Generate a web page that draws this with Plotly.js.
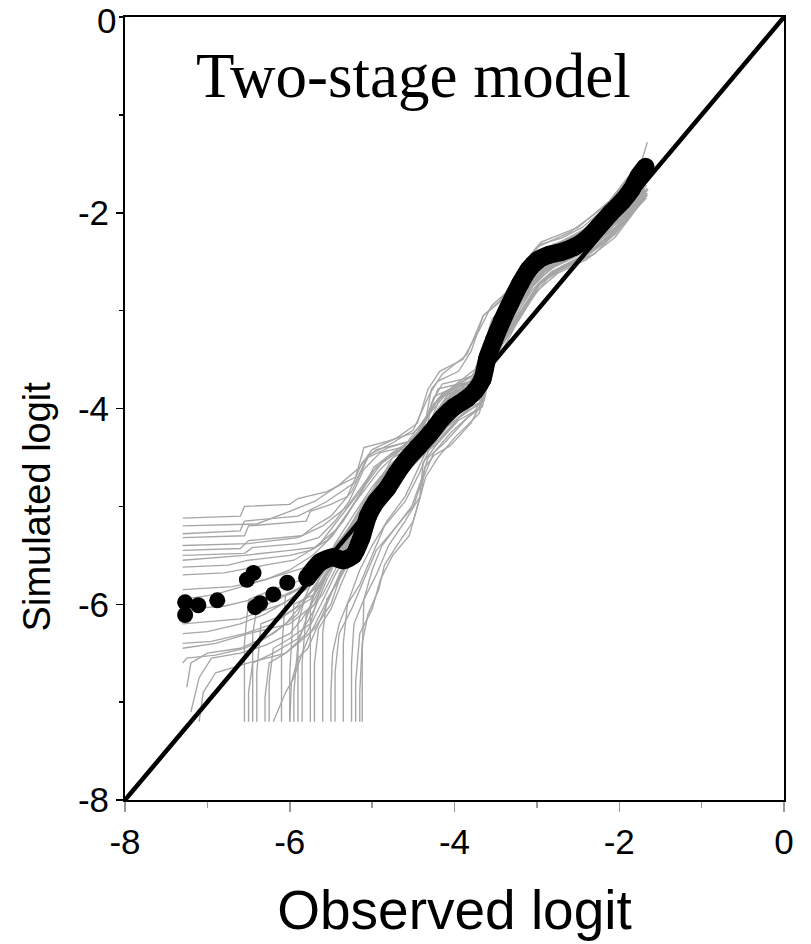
<!DOCTYPE html>
<html>
<head>
<meta charset="utf-8">
<script src="https://cdn.plot.ly/plotly-3.0.1.min.js"></script>
<style>html,body{margin:0;padding:0;background:#fff;}#chart{width:811px;height:944px;}</style>
</head>
<body>
<div id="chart"></div>
<script>
// Observed logit vs simulated logit (black, thick): isolated left points
const obsIsoX = [-7.27, -7.27, -7.11, -6.88, -6.52, -6.44, -6.42, -6.36, -6.20, -6.03];
const obsIsoY = [-5.98, -6.11, -6.01, -5.96, -5.75, -5.68, -6.03, -5.99, -5.90, -5.78];
// continuous part of the observed curve
const obsX = [-5.79, -5.63, -5.48, -5.35, -5.23, -5.13, -5.05, -4.95, -4.82, -4.70, -4.58, -4.45, -4.30, -4.15, -4.00, -3.85, -3.75, -3.66, -3.60, -3.52, -3.42, -3.32, -3.20, -3.10, -2.98, -2.85, -2.70, -2.55, -2.40, -2.25, -2.10, -1.96, -1.85, -1.76, -1.68];
const obsY = [-5.73, -5.57, -5.52, -5.55, -5.50, -5.32, -5.10, -4.95, -4.82, -4.66, -4.52, -4.40, -4.26, -4.10, -3.98, -3.90, -3.82, -3.70, -3.48, -3.30, -3.10, -2.92, -2.72, -2.58, -2.48, -2.43, -2.40, -2.35, -2.27, -2.14, -2.00, -1.88, -1.76, -1.62, -1.53];
// identity line
const idX = [-8, 0];
const idY = [-8, 0];
// Simulated datasets (grey), [observed, simulated] pairs
const sim01 = [[-7.3,-6.45],[-6.9,-6.4],[-6.5,-6.3],[-6.0,-6.2],[-5.7,-6.0],[-5.5,-5.6],[-5.3,-5.3],[-5.1,-5.05],[-4.85,-4.8],[-4.6,-4.5],[-4.35,-4.25],[-4.1,-3.9],[-3.85,-3.75],[-3.68,-3.6],[-3.55,-3.3],[-3.4,-3.05],[-3.2,-2.75],[-2.95,-2.5],[-2.6,-2.35],[-2.25,-2.15],[-1.95,-1.92],[-1.78,-1.72],[-1.7,-1.6]];
const sim02 = [[-7.3,-5.28],[-6.6,-5.25],[-6.55,-5.15],[-5.9,-5.1],[-5.55,-4.95],[-5.2,-4.75],[-5.05,-4.48],[-4.75,-4.35],[-4.5,-4.22],[-4.3,-3.85],[-4.15,-3.65],[-3.85,-3.45],[-3.65,-3.05],[-3.4,-2.88],[-3.2,-2.6],[-3.0,-2.35],[-2.6,-2.2],[-2.15,-1.92],[-1.9,-1.65],[-1.72,-1.45],[-1.66,-1.28]];
const sim03 = [[-7.3,-5.4],[-6.5,-5.38],[-5.9,-5.32],[-5.6,-5.2],[-5.3,-5.0],[-5.0,-4.65],[-4.75,-4.45],[-4.45,-4.28],[-4.25,-3.95],[-4.0,-3.78],[-3.75,-3.7],[-3.62,-3.4],[-3.48,-3.1],[-3.3,-2.82],[-3.08,-2.52],[-2.8,-2.32],[-2.4,-2.22],[-2.05,-1.98],[-1.82,-1.78],[-1.7,-1.62]];
const sim04 = [[-7.3,-5.55],[-6.55,-5.5],[-6.0,-5.45],[-5.7,-5.42],[-5.45,-5.25],[-5.2,-4.95],[-4.9,-4.62],[-4.62,-4.4],[-4.4,-4.15],[-4.15,-3.85],[-3.9,-3.72],[-3.7,-3.62],[-3.58,-3.35],[-3.42,-3.08],[-3.22,-2.78],[-2.98,-2.52],[-2.7,-2.4],[-2.3,-2.2],[-1.98,-1.95],[-1.8,-1.8],[-1.68,-1.65]];
const sim05 = [[-7.3,-5.95],[-6.9,-5.9],[-6.5,-5.8],[-6.1,-5.7],[-5.8,-5.62],[-5.5,-5.45],[-5.25,-5.2],[-5.0,-4.85],[-4.7,-4.55],[-4.45,-4.35],[-4.2,-4.1],[-3.95,-3.85],[-3.7,-3.75],[-3.6,-3.45],[-3.45,-3.2],[-3.28,-2.95],[-3.05,-2.65],[-2.8,-2.45],[-2.45,-2.32],[-2.1,-2.1],[-1.85,-1.85],[-1.72,-1.7]];
const sim06 = [[-7.25,-6.85],[-7.2,-6.6],[-7.0,-6.5],[-6.6,-6.45],[-6.2,-6.3],[-5.9,-6.1],[-5.75,-5.8],[-5.5,-5.55],[-5.3,-5.35],[-5.05,-5.0],[-4.8,-4.7],[-4.55,-4.5],[-4.35,-4.3],[-4.1,-4.0],[-3.8,-3.85],[-3.65,-3.7],[-3.52,-3.4],[-3.35,-3.15],[-3.15,-2.85],[-2.9,-2.6],[-2.55,-2.45],[-2.2,-2.25],[-1.85,-1.95],[-1.7,-1.78]];
const sim07 = [[-7.3,-5.7],[-6.8,-5.68],[-6.3,-5.6],[-5.95,-5.55],[-5.65,-5.4],[-5.4,-5.12],[-5.15,-4.85],[-4.95,-4.6],[-4.7,-4.45],[-4.5,-4.3],[-4.3,-4.05],[-4.05,-3.8],[-3.8,-3.68],[-3.66,-3.5],[-3.52,-3.15],[-3.35,-2.9],[-3.12,-2.6],[-2.9,-2.4],[-2.5,-2.25],[-2.12,-2.02],[-1.88,-1.82],[-1.73,-1.66]];
const sim08 = [[-7.3,-6.2],[-6.6,-6.15],[-6.1,-6.0],[-5.8,-5.85],[-5.6,-5.6],[-5.35,-5.4],[-5.1,-5.1],[-4.85,-4.75],[-4.55,-4.55],[-4.3,-4.35],[-4.15,-4.15],[-3.9,-3.95],[-3.68,-3.85],[-3.6,-3.55],[-3.48,-3.3],[-3.3,-3.05],[-3.1,-2.75],[-2.85,-2.55],[-2.5,-2.4],[-2.15,-2.18],[-1.85,-1.9],[-1.7,-1.75]];
const sim09 = [[-6.55,-7.2],[-6.55,-6.4],[-6.5,-5.95],[-6.2,-5.85],[-5.85,-5.75],[-5.6,-5.55],[-5.35,-5.3],[-5.15,-5.05],[-4.9,-4.7],[-4.6,-4.48],[-4.38,-4.25],[-4.12,-3.92],[-3.85,-3.78],[-3.68,-3.65],[-3.56,-3.38],[-3.4,-3.12],[-3.22,-2.82],[-2.98,-2.55],[-2.65,-2.38],[-2.25,-2.18],[-1.95,-1.95],[-1.76,-1.76]];
const sim10 = [[-6.4,-7.2],[-6.4,-6.7],[-6.35,-6.2],[-6.05,-6.1],[-5.75,-5.95],[-5.55,-5.7],[-5.4,-5.45],[-5.2,-5.2],[-4.95,-4.9],[-4.7,-4.6],[-4.45,-4.4],[-4.25,-4.18],[-4.0,-3.88],[-3.75,-3.8],[-3.62,-3.58],[-3.5,-3.28],[-3.32,-3.0],[-3.12,-2.7],[-2.85,-2.5],[-2.45,-2.35],[-2.08,-2.1],[-1.82,-1.85],[-1.68,-1.7]];
const sim11 = [[-6.1,-7.2],[-6.1,-6.5],[-6.05,-5.9],[-5.8,-5.8],[-5.6,-5.65],[-5.45,-5.38],[-5.25,-5.12],[-5.0,-4.8],[-4.75,-4.55],[-4.5,-4.38],[-4.28,-4.1],[-4.05,-3.82],[-3.8,-3.72],[-3.64,-3.48],[-3.5,-3.2],[-3.32,-2.95],[-3.1,-2.62],[-2.85,-2.42],[-2.5,-2.28],[-2.15,-2.08],[-1.9,-1.86],[-1.74,-1.7]];
const sim12 = [[-5.85,-7.2],[-5.85,-6.6],[-5.8,-6.1],[-5.6,-5.9],[-5.45,-5.65],[-5.3,-5.4],[-5.12,-5.15],[-4.9,-4.85],[-4.62,-4.6],[-4.4,-4.45],[-4.2,-4.22],[-3.95,-3.95],[-3.7,-3.88],[-3.6,-3.6],[-3.46,-3.35],[-3.28,-3.08],[-3.05,-2.78],[-2.82,-2.6],[-2.4,-2.42],[-2.08,-2.2],[-1.8,-1.9],[-1.68,-1.78]];
const sim13 = [[-5.6,-7.2],[-5.6,-6.3],[-5.55,-5.95],[-5.4,-5.75],[-5.2,-5.45],[-5.0,-5.15],[-4.75,-4.82],[-4.5,-4.55],[-4.3,-4.35],[-4.1,-4.1],[-3.85,-3.95],[-3.66,-3.9],[-3.56,-3.5],[-3.42,-3.25],[-3.25,-3.0],[-3.02,-2.7],[-2.78,-2.55],[-2.4,-2.4],[-2.0,-2.12],[-1.76,-1.86],[-1.66,-1.75]];
const sim14 = [[-5.35,-7.2],[-5.35,-6.4],[-5.3,-6.0],[-5.15,-5.8],[-5.0,-5.5],[-4.85,-5.2],[-4.6,-4.95],[-4.42,-4.65],[-4.3,-4.4],[-4.1,-4.2],[-3.8,-3.98],[-3.64,-3.92],[-3.55,-3.55],[-3.4,-3.3],[-3.2,-3.02],[-3.0,-2.75],[-2.8,-2.6],[-2.45,-2.45],[-2.1,-2.22],[-1.8,-1.92],[-1.66,-1.8]];
const sim15 = [[-5.12,-7.2],[-5.12,-6.5],[-5.1,-5.95],[-4.95,-5.7],[-4.8,-5.4],[-4.6,-5.15],[-4.42,-4.9],[-4.38,-4.55],[-4.2,-4.35],[-3.95,-4.1],[-3.7,-3.95],[-3.6,-3.7],[-3.5,-3.42],[-3.35,-3.2],[-3.15,-2.95],[-2.95,-2.7],[-2.7,-2.55],[-2.35,-2.4],[-2.0,-2.15],[-1.75,-1.88],[-1.65,-1.76]];
const sim16 = [[-6.25,-7.2],[-6.25,-6.8],[-6.2,-6.45],[-6.0,-6.35],[-5.75,-6.2],[-5.65,-5.9],[-5.5,-5.6],[-5.3,-5.35],[-5.1,-5.1],[-4.85,-4.8],[-4.55,-4.52],[-4.35,-4.32],[-4.18,-4.05],[-3.92,-3.85],[-3.7,-3.78],[-3.6,-3.5],[-3.45,-3.22],[-3.27,-2.96],[-3.05,-2.65],[-2.78,-2.46],[-2.35,-2.3],[-2.0,-2.05],[-1.78,-1.8],[-1.7,-1.68]];
const sim17 = [[-5.95,-7.2],[-5.95,-6.9],[-5.9,-6.4],[-5.7,-6.25],[-5.5,-6.0],[-5.38,-5.7],[-5.22,-5.45],[-5.05,-5.2],[-4.8,-4.9],[-4.55,-4.62],[-4.35,-4.42],[-4.15,-4.25],[-3.9,-4.0],[-3.66,-3.82],[-3.58,-3.52],[-3.44,-3.3],[-3.25,-3.05],[-3.05,-2.75],[-2.8,-2.55],[-2.4,-2.38],[-2.05,-2.15],[-1.78,-1.85],[-1.67,-1.72]];
const sim18 = [[-5.45,-7.2],[-5.45,-6.7],[-5.4,-6.3],[-5.25,-6.05],[-5.1,-5.75],[-4.95,-5.45],[-4.75,-5.25],[-4.5,-5.0],[-4.4,-4.75],[-4.25,-4.45],[-4.05,-4.25],[-3.75,-4.02],[-3.63,-3.85],[-3.55,-3.6],[-3.42,-3.35],[-3.22,-3.1],[-3.0,-2.8],[-2.75,-2.62],[-2.4,-2.48],[-2.05,-2.25],[-1.78,-1.95],[-1.66,-1.82]];
const sim19 = [[-6.5,-7.2],[-6.5,-6.9],[-6.45,-6.6],[-6.2,-6.5],[-5.9,-6.35],[-5.7,-6.05],[-5.55,-5.75],[-5.4,-5.5],[-5.2,-5.25],[-4.95,-4.95],[-4.7,-4.68],[-4.48,-4.48],[-4.28,-4.28],[-4.05,-3.98],[-3.8,-3.85],[-3.65,-3.72],[-3.55,-3.42],[-3.38,-3.15],[-3.18,-2.88],[-2.95,-2.6],[-2.6,-2.45],[-2.2,-2.25],[-1.9,-1.95],[-1.72,-1.78]];
const sim20 = [[-7.1,-7.2],[-7.05,-6.9],[-6.9,-6.7],[-6.5,-6.6],[-6.05,-6.5],[-5.8,-6.3],[-5.62,-6.0],[-5.45,-5.7],[-5.28,-5.45],[-5.08,-5.15],[-4.8,-4.85],[-4.55,-4.6],[-4.35,-4.4],[-4.15,-4.15],[-3.9,-3.9],[-3.7,-3.8],[-3.6,-3.55],[-3.47,-3.3],[-3.3,-3.02],[-3.08,-2.72],[-2.82,-2.5],[-2.45,-2.35],[-2.1,-2.12],[-1.84,-1.88],[-1.7,-1.74]];
const sim21 = [[-7.3,-5.2],[-6.4,-5.18],[-6.0,-5.05],[-5.7,-4.95],[-5.4,-4.78],[-5.15,-4.6],[-5.0,-4.42],[-4.7,-4.3],[-4.45,-4.15],[-4.32,-3.8],[-4.18,-3.62],[-3.9,-3.5],[-3.7,-3.2],[-3.55,-2.95],[-3.35,-2.8],[-3.15,-2.5],[-2.95,-2.3],[-2.5,-2.15],[-2.12,-1.88],[-1.88,-1.62],[-1.75,-1.5]];
const sim22 = [[-7.3,-5.85],[-6.7,-5.82],[-6.3,-5.75],[-6.0,-5.65],[-5.72,-5.5],[-5.48,-5.3],[-5.28,-5.05],[-5.08,-4.78],[-4.85,-4.52],[-4.6,-4.38],[-4.38,-4.18],[-4.2,-3.9],[-3.98,-3.75],[-3.75,-3.6],[-3.62,-3.3],[-3.48,-3.02],[-3.28,-2.72],[-3.05,-2.45],[-2.72,-2.3],[-2.32,-2.12],[-2.0,-1.9],[-1.8,-1.7],[-1.68,-1.55]];
const sim23 = [[-7.3,-6.3],[-7.0,-6.28],[-6.6,-6.2],[-6.3,-6.1],[-6.0,-5.95],[-5.7,-5.75],[-5.45,-5.55],[-5.22,-5.3],[-4.98,-4.98],[-4.72,-4.7],[-4.48,-4.5],[-4.25,-4.3],[-4.0,-4.02],[-3.75,-3.9],[-3.63,-3.68],[-3.52,-3.38],[-3.36,-3.12],[-3.16,-2.82],[-2.92,-2.6],[-2.55,-2.44],[-2.18,-2.22],[-1.87,-1.92],[-1.7,-1.8]];
const sim24 = [[-5.75,-7.2],[-5.75,-6.0],[-5.65,-5.75],[-5.5,-5.5],[-5.3,-5.25],[-5.1,-4.95],[-4.85,-4.68],[-4.6,-4.42],[-4.4,-4.2],[-4.2,-3.9],[-3.95,-3.78],[-3.72,-3.7],[-3.6,-3.45],[-3.45,-3.15],[-3.28,-2.88],[-3.05,-2.58],[-2.75,-2.42],[-2.35,-2.25],[-2.0,-2.02],[-1.82,-1.8],[-1.7,-1.66]];
const sim25 = [[-5.2,-7.2],[-5.2,-6.8],[-5.15,-6.3],[-5.0,-6.05],[-4.9,-5.75],[-4.75,-5.5],[-4.55,-5.3],[-4.45,-5.0],[-4.35,-4.7],[-4.2,-4.5],[-4.0,-4.3],[-3.7,-4.05],[-3.62,-3.8],[-3.55,-3.52],[-3.4,-3.28],[-3.2,-3.02],[-2.98,-2.72],[-2.75,-2.58],[-2.4,-2.45],[-2.05,-2.22],[-1.76,-1.92],[-1.66,-1.8]];
const sim26 = [[-6.0,-7.2],[-6.0,-6.7],[-5.95,-6.0],[-5.7,-5.9],[-5.55,-5.7],[-5.38,-5.45],[-5.18,-5.18],[-4.95,-4.88],[-4.68,-4.6],[-4.45,-4.42],[-4.25,-4.22],[-4.02,-3.92],[-3.78,-3.8],[-3.63,-3.6],[-3.52,-3.3],[-3.36,-3.05],[-3.15,-2.75],[-2.9,-2.52],[-2.55,-2.36],[-2.2,-2.18],[-1.9,-1.9],[-1.73,-1.74]];
const sim27 = [[-7.3,-5.32],[-6.55,-5.3],[-6.5,-5.2],[-5.8,-5.15],[-5.75,-5.05],[-5.5,-4.98],[-5.3,-4.9],[-5.12,-4.55],[-4.95,-4.42],[-4.6,-4.35],[-4.35,-4.28],[-4.28,-3.95],[-4.15,-3.75],[-3.9,-3.7],[-3.72,-3.65],[-3.65,-3.38],[-3.55,-3.1],[-3.38,-2.9],[-3.2,-2.62],[-3.0,-2.42],[-2.7,-2.3],[-2.35,-2.15],[-2.05,-1.95],[-1.85,-1.72],[-1.72,-1.55]];
const sim28 = [[-7.3,-5.45],[-6.6,-5.43],[-6.5,-5.35],[-5.85,-5.3],[-5.7,-5.2],[-5.5,-5.1],[-5.25,-4.85],[-5.05,-4.5],[-4.8,-4.4],[-4.5,-4.32],[-4.32,-4.05],[-4.2,-3.8],[-4.0,-3.76],[-3.75,-3.72],[-3.64,-3.5],[-3.55,-3.2],[-3.42,-3.0],[-3.25,-2.72],[-3.05,-2.5],[-2.75,-2.38],[-2.4,-2.25],[-2.1,-2.05],[-1.86,-1.82],[-1.72,-1.66]];
const sim29 = [[-7.3,-5.5],[-6.55,-5.48],[-6.45,-5.42],[-5.9,-5.38],[-5.65,-5.32],[-5.45,-5.15],[-5.28,-4.95],[-5.1,-4.62],[-4.9,-4.45],[-4.55,-4.38],[-4.38,-4.2],[-4.25,-3.88],[-4.05,-3.8],[-3.8,-3.75],[-3.66,-3.62],[-3.58,-3.3],[-3.45,-3.05],[-3.28,-2.8],[-3.08,-2.55],[-2.82,-2.42],[-2.45,-2.3],[-2.15,-2.1],[-1.9,-1.88],[-1.73,-1.72]];
const sim30 = [[-7.3,-6.05],[-6.8,-6.02],[-6.45,-5.95],[-6.0,-5.9],[-5.75,-5.75],[-5.55,-5.55],[-5.35,-5.35],[-5.15,-5.1],[-4.95,-4.8],[-4.75,-4.55],[-4.5,-4.45],[-4.32,-4.3],[-4.2,-4.0],[-4.0,-3.85],[-3.75,-3.8],[-3.63,-3.6],[-3.53,-3.3],[-3.38,-3.08],[-3.2,-2.8],[-2.97,-2.56],[-2.62,-2.42],[-2.25,-2.2],[-1.92,-1.92],[-1.74,-1.76]];
const sim31 = [[-7.3,-6.4],[-6.95,-6.38],[-6.55,-6.3],[-6.2,-6.2],[-5.95,-6.05],[-5.72,-5.85],[-5.55,-5.62],[-5.38,-5.4],[-5.18,-5.15],[-4.92,-4.85],[-4.68,-4.6],[-4.45,-4.48],[-4.3,-4.35],[-4.12,-4.08],[-3.85,-3.88],[-3.68,-3.8],[-3.58,-3.55],[-3.46,-3.3],[-3.28,-3.05],[-3.08,-2.75],[-2.85,-2.55],[-2.5,-2.4],[-2.12,-2.18],[-1.82,-1.9],[-1.69,-1.76]];
const sim32 = [[-7.2,-7.1],[-7.1,-6.75],[-6.95,-6.55],[-6.6,-6.5],[-6.3,-6.42],[-6.0,-6.3],[-5.85,-6.15],[-5.7,-5.95],[-5.55,-5.7],[-5.35,-5.45],[-5.15,-5.2],[-4.92,-4.92],[-4.68,-4.65],[-4.45,-4.5],[-4.28,-4.32],[-4.08,-4.05],[-3.82,-3.9],[-3.66,-3.75],[-3.57,-3.48],[-3.42,-3.22],[-3.22,-2.9],[-3.0,-2.65],[-2.7,-2.5],[-2.3,-2.3],[-1.95,-2.0],[-1.74,-1.8]];
const sim33 = [[-6.3,-7.2],[-6.3,-6.95],[-6.25,-6.6],[-6.05,-6.5],[-5.9,-6.4],[-5.8,-6.15],[-5.68,-5.85],[-5.5,-5.58],[-5.32,-5.32],[-5.12,-5.02],[-4.88,-4.75],[-4.62,-4.5],[-4.4,-4.4],[-4.22,-4.15],[-3.98,-3.9],[-3.72,-3.82],[-3.6,-3.58],[-3.48,-3.32],[-3.3,-3.05],[-3.1,-2.72],[-2.88,-2.52],[-2.5,-2.38],[-2.12,-2.15],[-1.85,-1.88],[-1.7,-1.73]];
const sim34 = [[-6.0,-7.2],[-5.98,-6.8],[-5.9,-6.55],[-5.78,-6.45],[-5.65,-6.2],[-5.5,-5.9],[-5.35,-5.6],[-5.2,-5.35],[-5.02,-5.05],[-4.78,-4.78],[-4.55,-4.55],[-4.35,-4.4],[-4.18,-4.2],[-3.95,-3.98],[-3.72,-3.9],[-3.62,-3.65],[-3.52,-3.38],[-3.36,-3.15],[-3.18,-2.88],[-2.96,-2.62],[-2.62,-2.48],[-2.25,-2.28],[-1.9,-1.96],[-1.7,-1.8]];
const sim35 = [[-5.7,-7.2],[-5.7,-6.6],[-5.65,-6.25],[-5.5,-6.05],[-5.38,-5.8],[-5.25,-5.55],[-5.1,-5.3],[-4.92,-5.05],[-4.72,-4.8],[-4.5,-4.58],[-4.35,-4.45],[-4.15,-4.28],[-3.9,-4.05],[-3.68,-3.95],[-3.6,-3.68],[-3.5,-3.45],[-3.35,-3.22],[-3.15,-2.95],[-2.92,-2.68],[-2.6,-2.52],[-2.2,-2.32],[-1.85,-2.0],[-1.68,-1.84]];
const sim36 = [[-5.5,-7.2],[-5.5,-6.9],[-5.48,-6.5],[-5.4,-6.2],[-5.28,-5.95],[-5.15,-5.65],[-5.0,-5.4],[-4.82,-5.15],[-4.6,-4.9],[-4.45,-4.62],[-4.35,-4.45],[-4.2,-4.35],[-3.95,-4.12],[-3.7,-4.0],[-3.62,-3.75],[-3.52,-3.5],[-3.38,-3.28],[-3.18,-3.0],[-2.95,-2.72],[-2.7,-2.58],[-2.3,-2.42],[-1.95,-2.12],[-1.72,-1.86]];
const sim37 = [[-5.25,-7.2],[-5.25,-6.6],[-5.22,-6.2],[-5.1,-5.95],[-5.0,-5.65],[-4.88,-5.4],[-4.7,-5.2],[-4.52,-5.0],[-4.4,-4.72],[-4.32,-4.5],[-4.12,-4.35],[-3.85,-4.1],[-3.66,-3.98],[-3.58,-3.62],[-3.46,-3.4],[-3.28,-3.15],[-3.08,-2.9],[-2.85,-2.65],[-2.55,-2.5],[-2.18,-2.3],[-1.82,-1.98],[-1.67,-1.85]];
const sim38 = [[-6.45,-7.2],[-6.45,-6.3],[-6.4,-6.05],[-6.15,-5.95],[-5.9,-5.85],[-5.65,-5.68],[-5.45,-5.45],[-5.28,-5.22],[-5.08,-4.95],[-4.85,-4.65],[-4.62,-4.45],[-4.4,-4.36],[-4.25,-4.12],[-4.05,-3.85],[-3.8,-3.78],[-3.66,-3.68],[-3.57,-3.42],[-3.42,-3.18],[-3.25,-2.9],[-3.02,-2.6],[-2.75,-2.44],[-2.38,-2.28],[-2.02,-2.05],[-1.8,-1.8],[-1.69,-1.68]];
const sim39 = [[-6.2,-7.2],[-6.05,-6.9],[-5.95,-6.75],[-5.85,-6.5],[-5.75,-6.3],[-5.6,-6.05],[-5.45,-5.8],[-5.3,-5.55],[-5.12,-5.25],[-4.9,-4.95],[-4.65,-4.65],[-4.42,-4.45],[-4.25,-4.25],[-4.02,-3.95],[-3.78,-3.85],[-3.64,-3.7],[-3.55,-3.45],[-3.4,-3.2],[-3.22,-2.92],[-3.0,-2.62],[-2.7,-2.45],[-2.3,-2.25],[-1.95,-1.98],[-1.75,-1.78]];
const sim40 = [[-7.3,-5.62],[-6.75,-5.6],[-6.5,-5.55],[-6.0,-5.5],[-5.75,-5.45],[-5.55,-5.35],[-5.35,-5.15],[-5.15,-4.88],[-4.98,-4.6],[-4.75,-4.45],[-4.48,-4.38],[-4.3,-4.15],[-4.18,-3.9],[-3.95,-3.8],[-3.72,-3.75],[-3.62,-3.55],[-3.5,-3.25],[-3.32,-2.98],[-3.12,-2.68],[-2.88,-2.48],[-2.55,-2.35],[-2.2,-2.15],[-1.92,-1.9],[-1.75,-1.75]];
const sim41 = [[-7.3,-6.6],[-7.25,-6.55],[-6.9,-6.52],[-6.55,-6.45],[-6.3,-6.35],[-6.05,-6.2],[-5.85,-6.0],[-5.65,-5.75],[-5.48,-5.5],[-5.3,-5.25],[-5.1,-5.0],[-4.85,-4.7],[-4.6,-4.52],[-4.38,-4.42],[-4.2,-4.2],[-3.98,-3.92],[-3.74,-3.85],[-3.62,-3.62],[-3.5,-3.38],[-3.34,-3.12],[-3.14,-2.85],[-2.92,-2.58],[-2.58,-2.42],[-2.2,-2.22],[-1.88,-1.92],[-1.7,-1.78]];
const sim42 = [[-7.3,-5.12],[-6.6,-5.1],[-6.55,-5.0],[-6.0,-4.98],[-5.9,-4.92],[-5.55,-4.85],[-5.2,-4.7],[-5.1,-4.4],[-4.8,-4.33],[-4.5,-4.25],[-4.35,-4.12],[-4.28,-3.8],[-4.2,-3.72],[-3.95,-3.62],[-3.8,-3.42],[-3.65,-3.05],[-3.45,-2.9],[-3.3,-2.72],[-3.15,-2.5],[-2.95,-2.32],[-2.7,-2.26],[-2.45,-2.15],[-2.1,-1.9],[-1.92,-1.7],[-1.8,-1.55],[-1.7,-1.45]];
const sim43 = [[-5.15,-7.2],[-5.15,-6.9],[-5.12,-6.4],[-5.05,-6.1],[-4.92,-5.85],[-4.85,-5.6],[-4.7,-5.4],[-4.5,-5.15],[-4.4,-4.85],[-4.36,-4.6],[-4.25,-4.48],[-4.05,-4.38],[-3.8,-4.15],[-3.66,-3.92],[-3.56,-3.58],[-3.45,-3.45],[-3.32,-3.25],[-3.18,-3.02],[-2.98,-2.75],[-2.8,-2.6],[-2.5,-2.5],[-2.15,-2.25],[-1.8,-1.92],[-1.66,-1.82]];
const sim44 = [[-5.9,-7.2],[-5.9,-6.2],[-5.82,-5.95],[-5.65,-5.8],[-5.5,-5.62],[-5.35,-5.38],[-5.18,-5.1],[-4.98,-4.85],[-4.75,-4.5],[-4.55,-4.42],[-4.35,-4.32],[-4.22,-4.05],[-4.0,-3.82],[-3.76,-3.76],[-3.63,-3.55],[-3.52,-3.28],[-3.36,-3.02],[-3.16,-2.7],[-2.92,-2.5],[-2.6,-2.38],[-2.22,-2.2],[-1.92,-1.92],[-1.75,-1.75]];
const simSets = [sim01, sim02, sim03, sim04, sim05, sim06, sim07, sim08, sim09, sim10, sim11,
                 sim12, sim13, sim14, sim15, sim16, sim17, sim18, sim19, sim20, sim21, sim22,
                 sim23, sim24, sim25, sim26, sim27, sim28, sim29, sim30, sim31, sim32, sim33,
                 sim34, sim35, sim36, sim37, sim38, sim39, sim40, sim41, sim42, sim43, sim44];

const xTickVals = [-8, -6, -4, -2, 0];
const xTickText = ['-8', '-6', '-4', '-2', '0'];
// the top y label ("0") is drawn as an annotation so it stays inside the page
const yTickVals = [-8, -6, -4, -2];
const yTickText = ['-8', '-6', '-4', '-2'];
const yTopLabel = '0';

const traces = [];
simSets.forEach(function (s) {
  traces.push({
    type: 'scatter', mode: 'lines',
    x: s.map(function (p) { return p[0]; }),
    y: s.map(function (p) { return p[1]; }),
    line: {color: '#a6a6a6', width: 1.35},
    hoverinfo: 'skip', showlegend: false
  });
});
traces.push({
  type: 'scatter', mode: 'lines', x: idX, y: idY,
  line: {color: '#000', width: 4.5}, showlegend: false
});
traces.push({
  type: 'scatter', mode: 'lines+markers', x: obsX, y: obsY,
  line: {color: '#000', width: 18, shape: 'spline', smoothing: 0.6},
  marker: {color: '#000', size: 18},
  showlegend: false
});
traces.push({
  type: 'scatter', mode: 'markers', x: obsIsoX, y: obsIsoY,
  marker: {color: '#000', size: 16},
  showlegend: false
});

const sansFam = 'Liberation Sans, Arial, sans-serif';
const axisFont = {family: sansFam, size: 35, color: '#000'};
const layout = {
  width: 811, height: 944,
  margin: {l: 125, r: 27, t: 17, b: 144, pad: 0},
  paper_bgcolor: '#fff', plot_bgcolor: '#fff',
  showlegend: false,
  font: {family: sansFam, color: '#000'},
  xaxis: {
    range: [-8, 0], tickmode: 'array', tickvals: xTickVals, ticktext: xTickText,
    showgrid: false, zeroline: false, showline: true, mirror: true,
    linecolor: '#000', linewidth: 2,
    ticks: 'outside', ticklen: 10, tickwidth: 1.5, tickcolor: '#999',
    minor: {dtick: 1, tick0: 0, ticks: 'outside', ticklen: 6, tickwidth: 1.5, tickcolor: '#999', showgrid: false},
    tickfont: axisFont, ticklabeloverflow: 'allow',
    title: {text: 'Observed logit', font: {family: sansFam, size: 55, color: '#000'}, standoff: 30}
  },
  yaxis: {
    range: [-8, 0], tickmode: 'array', tickvals: yTickVals, ticktext: yTickText,
    showgrid: false, zeroline: false, showline: true, mirror: true,
    linecolor: '#000', linewidth: 2,
    ticks: 'outside', ticklen: 7, tickwidth: 1.5, tickcolor: '#000',
    minor: {dtick: 1, tick0: 0, ticks: 'outside', ticklen: 4, tickwidth: 1.5, tickcolor: '#000', showgrid: false},
    tickfont: axisFont, ticklabeloverflow: 'allow'
  },
  shapes: [{
    type: 'line', xref: 'paper', yref: 'paper', x0: 0, x1: 0, y0: 1, y1: 1,
    xsizemode: 'pixel', xanchor: 0, line: {color: '#000', width: 0}
  }],
  annotations: [{
    text: 'Two-stage model', xref: 'x', yref: 'y', x: -4.5, y: -0.6,
    xanchor: 'center', yanchor: 'middle', showarrow: false,
    font: {family: 'Liberation Serif, Times New Roman, serif', size: 63, color: '#000'}
  }, {
    text: 'Simulated logit', xref: 'paper', yref: 'y', x: -0.1335, y: -5.0,
    xanchor: 'center', yanchor: 'middle', showarrow: false, textangle: -90,
    font: {family: sansFam, size: 38, color: '#000'}
  }, {
    text: yTopLabel, xref: 'paper', yref: 'paper', x: 0, y: 1,
    xanchor: 'right', yanchor: 'top', xshift: -8, yshift: 17, showarrow: false,
    borderpad: 0, font: axisFont
  }]
};
Plotly.newPlot('chart', traces, layout, {displayModeBar: false, staticPlot: true});
</script>
</body>
</html>
